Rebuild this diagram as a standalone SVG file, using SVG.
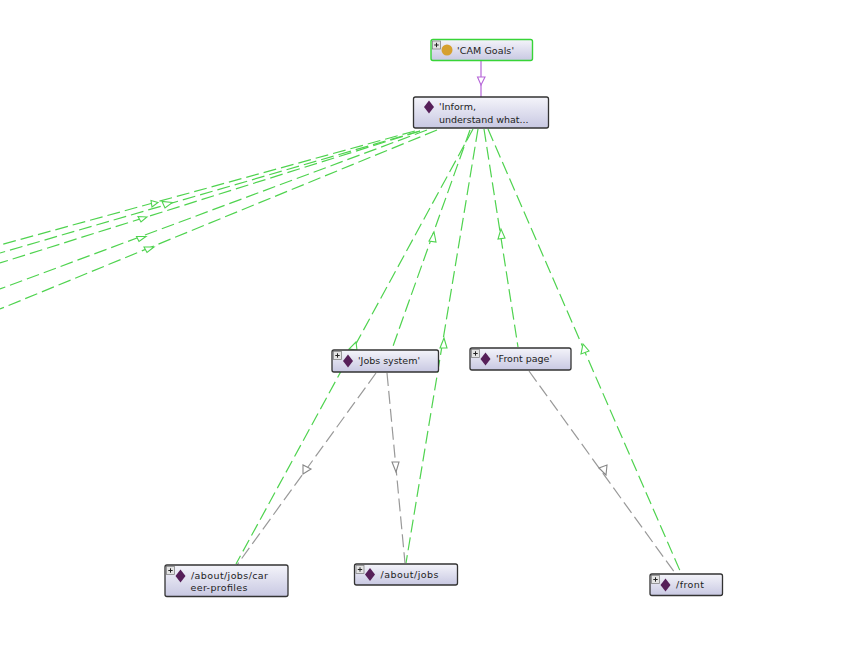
<svg xmlns="http://www.w3.org/2000/svg" width="859" height="655" viewBox="0 0 859 655">
<defs>
<linearGradient id="g" x1="0" y1="0" x2="0" y2="1"><stop offset="0" stop-color="#f4f4fa"/><stop offset="1" stop-color="#c8c8e2"/></linearGradient>
<g id="plus"><rect x="0" y="0" width="8" height="8" fill="#e4e4e4" stroke="#777" stroke-width="0.7"/><path d="M1.800 4H6.200M4 1.800V6.200" stroke="#222" stroke-width="1"/></g>
<polygon id="dia" points="0,-6.500 5,0 0,6.500 -5,0" fill="#561f59"/>
</defs>
<style>
text{font-family:"DejaVu Sans","Liberation Sans",sans-serif;font-size:9.500px;fill:#222}
.b{fill:url(#g);stroke:#333;stroke-width:1.300}
.gr{fill:none;stroke:#4fd34f;stroke-width:1.200;stroke-dasharray:13 5}
.gy{fill:none;stroke:#999;stroke-width:1.200;stroke-dasharray:13 5}
.hg{fill:#fff;stroke:#4fd34f;stroke-width:1.100}
.hy{fill:#fff;stroke:#888;stroke-width:1.100}
</style>
<g id="connectors">
<path class="gr" d="M415 131L0 245"/>
<path class="gr" d="M420 131L0 253"/>
<path class="gr" d="M420 131L0 263"/>
<path class="gr" d="M427 130L0 289"/>
<path class="gr" d="M437 130L0 309"/>
<path class="gr" d="M473 129L236 564"/>
<path class="gr" d="M470 130L392 349"/>
<path class="gr" d="M478 129L406 563"/>
<path class="gr" d="M484 129L518 347"/>
<path class="gr" d="M488 129L681 573"/>
<path class="gy" d="M376 373L237 565"/>
<path class="gy" d="M387 373L405 563"/>
<path class="gy" d="M529 371L675 573"/>
<path d="M481 61V97" fill="none" stroke="#b565d8" stroke-width="1.200"/>
<polygon points="477.500,77 485,77 481,85" fill="#fff" stroke="#b565d8" stroke-width="1.100"/>
<polygon class="hg" points="158,202.500 151,200.500 152,207"/>
<polygon class="hg" points="172.500,202.500 162,201.500 165,208"/>
<polygon class="hg" points="147,217 138,216.500 141,222"/>
<polygon class="hg" points="146,236.500 136.500,236.500 139,241.500"/>
<polygon class="hg" points="154,247 144,247 147,252.500"/>
<polygon class="hg" points="356,342 349,349 357,350"/>
<polygon class="hg" points="434,232 429,241 436,242"/>
<polygon class="hg" points="444,338 440,348 447,348"/>
<polygon class="hg" points="501,229 498,239 505,238"/>
<polygon class="hg" points="583,344 581,354 589,351"/>
<polygon class="hy" points="303,474 303,465 311,469"/>
<polygon class="hy" points="396,472 392,462 399,462"/>
<polygon class="hy" points="606,475 599,468 607,465"/>
</g>
<g id="n-cam"><rect x="431" y="39.500" width="101.500" height="21" rx="2" fill="url(#g)" stroke="#37d437" stroke-width="1.400"/><use href="#plus" x="432.500" y="41"/><circle cx="447" cy="50" r="5.500" fill="#d6a02f"/><text x="457" y="53.500" textLength="57">'CAM Goals'</text></g>
<g id="n-inform"><rect class="b" x="413.500" y="97" width="135" height="31" rx="2"/><use href="#dia" x="429" y="107"/><text x="439" y="110" textLength="37">'Inform,</text><text x="439" y="122.500" textLength="89.500">understand what...</text></g>
<g id="n-jobs"><rect class="b" x="332" y="350" width="106.500" height="22" rx="2"/><use href="#plus" x="333.500" y="351.500"/><use href="#dia" x="348" y="361"/><text x="358" y="364" textLength="62">'Jobs system'</text></g>
<g id="n-front"><rect class="b" x="470" y="348" width="101" height="22" rx="2"/><use href="#plus" x="471.500" y="349.500"/><use href="#dia" x="485.500" y="359"/><text x="496" y="362" textLength="56">'Front page'</text></g>
<g id="n-career"><rect class="b" x="165" y="565" width="123" height="31.500" rx="2"/><use href="#plus" x="166.500" y="566.500"/><use href="#dia" x="180.500" y="576"/><text x="191" y="579" textLength="77">/about/jobs/car</text><text x="190.500" y="590.500" textLength="57">eer-profiles</text></g>
<g id="n-aboutjobs"><rect class="b" x="354.500" y="564" width="103" height="21" rx="2"/><use href="#plus" x="356" y="565.500"/><use href="#dia" x="370" y="574.500"/><text x="380.500" y="577.500" textLength="58">/about/jobs</text></g>
<g id="n-front2"><rect class="b" x="650" y="574" width="72.500" height="21.500" rx="2"/><use href="#plus" x="651.500" y="575.500"/><use href="#dia" x="665.500" y="585"/><text x="676" y="588" textLength="28">/front</text></g>
</svg>
